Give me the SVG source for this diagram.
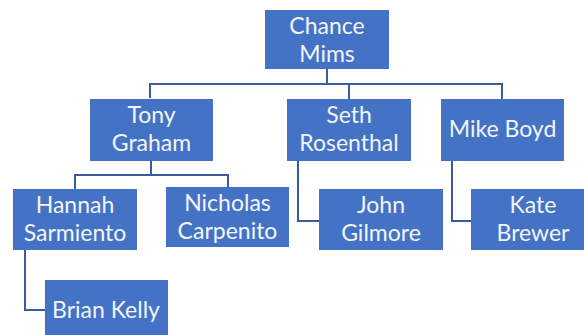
<svg xmlns="http://www.w3.org/2000/svg" width="584" height="335" viewBox="0 0 584 335">
<style>
.box{fill:#4472C4;}
.t{font-family:Lato,"Liberation Sans",sans-serif;font-size:23px;fill:#F2F5FB;text-anchor:middle;}
.c{fill:none;stroke:#3A5B9E;stroke-width:2;}
</style>
<rect width="584" height="335" fill="#FFFFFF"/>
<g id="connectors">
<path class="c" d="M327 69 V84 M150 98 V84 H502 V99 M349 84 V99"/>
<path class="c" d="M151 161 V175 M75 189 V175 H228 V187"/>
<path class="c" d="M298 161 V221 H319"/>
<path class="c" d="M452 161 V221 H471"/>
<path class="c" d="M25 250 V310 H45"/>
</g>
<g id="chance-mims"><rect class="box" x="265" y="10" width="124" height="59"/><text class="t" x="327" y="34">Chance</text><text class="t" x="327" y="62">Mims</text></g>
<g id="tony-graham"><rect class="box" x="90" y="99" width="123" height="62"/><text class="t" x="151.5" y="123">Tony</text><text class="t" x="151.5" y="151">Graham</text></g>
<g id="seth-rosenthal"><rect class="box" x="287" y="99" width="124" height="62"/><text class="t" x="349" y="123">Seth</text><text class="t" x="349" y="151">Rosenthal</text></g>
<g id="mike-boyd"><rect class="box" x="441" y="99" width="123" height="62"/><text class="t" x="502.5" y="137">Mike Boyd</text></g>
<g id="hannah-sarmiento"><rect class="box" x="13" y="189" width="124" height="61"/><text class="t" x="75" y="213">Hannah</text><text class="t" x="75" y="241">Sarmiento</text></g>
<g id="nicholas-carpenito"><rect class="box" x="166" y="187" width="123" height="60"/><text class="t" x="227.5" y="211">Nicholas</text><text class="t" x="227.5" y="239">Carpenito</text></g>
<g id="john-gilmore"><rect class="box" x="319" y="189" width="124" height="61"/><text class="t" x="381" y="213">John</text><text class="t" x="381" y="241">Gilmore</text></g>
<g id="kate-brewer"><rect class="box" x="471" y="189" width="124" height="61"/><text class="t" x="533" y="213">Kate</text><text class="t" x="533" y="241">Brewer</text></g>
<g id="brian-kelly"><rect class="box" x="45" y="280" width="123" height="60"/><text class="t" x="106" y="318">Brian Kelly</text></g>
</svg>
